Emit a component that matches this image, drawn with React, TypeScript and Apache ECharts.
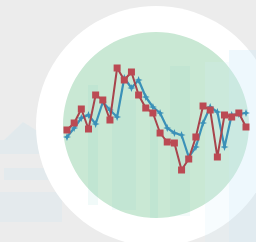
import React, { useEffect, useRef } from "react";
import * as echarts from "echarts";

const categories = Array.from({ length: 26 }, (_, i) => String(i + 1));
const redValues = [50, 57, 71, 51, 85, 80, 60, 112, 100, 108, 85, 72, 67, 47, 38, 37, 10, 21, 43, 74, 70, 23, 65, 63, 67, 53];
const blueValues = [43, 52, 62, 65, 56, 78, 70, 63, 102, 92, 100, 83, 73, 67, 52, 47, 45, 23, 33, 57, 73, 68, 33, 65, 66, 67];

export default function App() {
  const ref = useRef<HTMLDivElement>(null);
  useEffect(() => {
    if (!ref.current) return;
    const chart = echarts.init(ref.current, undefined, { renderer: "svg" });
    const cx = 156, cy = 126;
    chart.setOption({
      animation: false,
      backgroundColor: "#ececec",
      graphic: [
        // faint left decoration
        { type: "polygon", z: 0, shape: { points: [[4, 140], [23, 122], [52, 140]] }, style: { fill: "rgba(205,228,238,0.35)" } },
        { type: "rect", z: 0, shape: { x: 0, y: 140, width: 58, height: 14 }, style: { fill: "rgba(205,228,238,0.3)" } },
        { type: "rect", z: 0, shape: { x: 4, y: 168, width: 50, height: 12 }, style: { fill: "rgba(205,228,238,0.3)" } },
        { type: "rect", z: 0, shape: { x: 0, y: 192, width: 62, height: 30 }, style: { fill: "rgba(205,228,238,0.25)" } },
        // circles
        { type: "circle", z: 0, shape: { cx, cy, r: 120 }, style: { fill: "#ffffff" } },
        { type: "circle", z: 0, shape: { cx, cy: 125, r: 93 }, style: { fill: "#c9e8d4" } },
        // faint bars in green circle
        { type: "rect", z: 1, shape: { x: 88, y: 85, width: 10, height: 120 }, style: { fill: "rgba(120,205,195,0.1)" } },
        { type: "rect", z: 1, shape: { x: 112, y: 100, width: 24, height: 110 }, style: { fill: "rgba(120,205,195,0.07)" } },
        { type: "rect", z: 1, shape: { x: 150, y: 120, width: 8, height: 98 }, style: { fill: "rgba(120,205,195,0.1)" } },
        { type: "rect", z: 1, shape: { x: 170, y: 66, width: 20, height: 150 }, style: { fill: "rgba(120,205,195,0.08)" } },
        // pale blue decoration on right
        { type: "rect", z: 1, shape: { x: 205, y: 62, width: 24, height: 180 }, style: { fill: "rgba(215,240,252,0.2)" } },
        { type: "rect", z: 1, shape: { x: 229, y: 50, width: 27, height: 192 }, style: { fill: "rgba(205,235,250,0.35)" } }
      ],
      grid: { left: 67, width: 179, top: 50, height: 130 },
      xAxis: { type: "category", data: categories, boundaryGap: false, show: false },
      yAxis: { type: "value", min: 0, max: 130, show: false },
      series: [
        {
          type: "line",
          data: blueValues,
          z: 3,
          symbol: "path://M0,-5L1.4,-1.4L5,0L1.4,1.4L0,5L-1.4,1.4L-5,0L-1.4,-1.4Z",
          symbolSize: 8,
          showAllSymbol: true,
          lineStyle: { color: "#3b91b8", width: 2.2 },
          itemStyle: { color: "#3b91b8" }
        },
        {
          type: "line",
          data: redValues,
          z: 4,
          symbol: "rect",
          symbolSize: 7,
          showAllSymbol: true,
          lineStyle: { color: "#a8444c", width: 2 },
          itemStyle: { color: "#bb4a53" }
        }
      ]
    });
    return () => chart.dispose();
  }, []);
  return <div ref={ref} style={{ position: "absolute", left: 0, top: 0, width: 256, height: 242 }} />;
}
